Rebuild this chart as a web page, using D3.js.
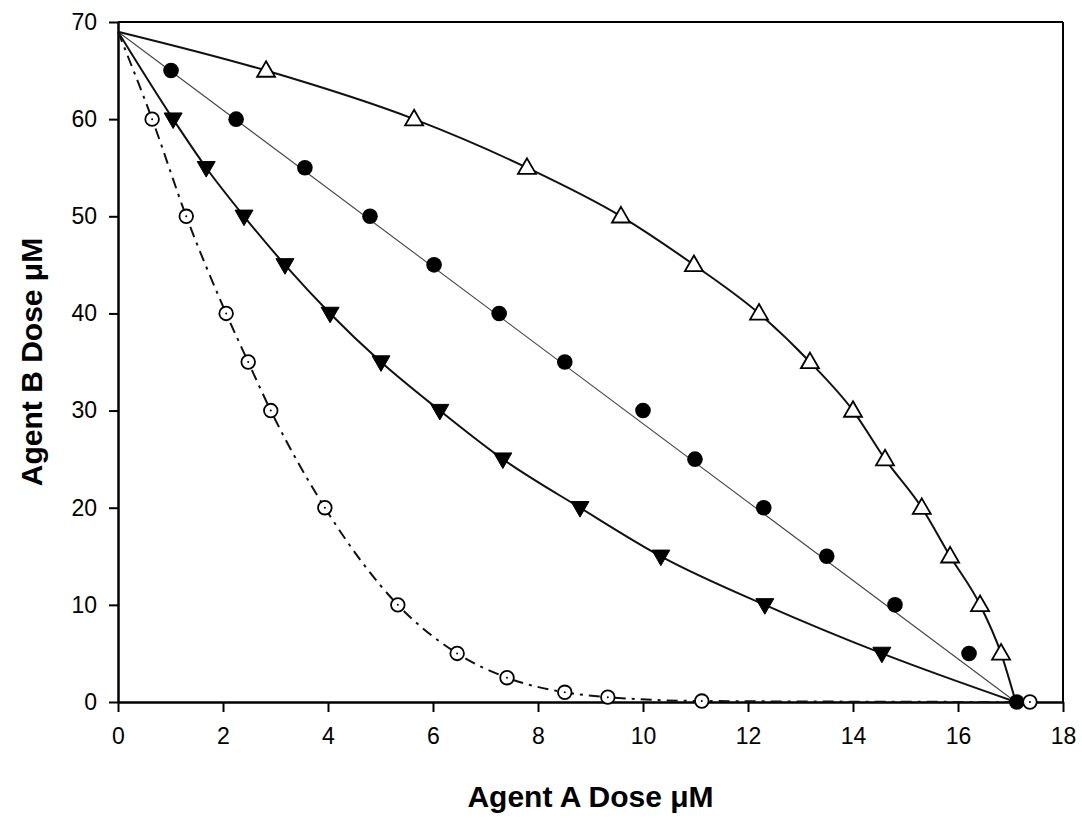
<!DOCTYPE html>
<html>
<head>
<meta charset="utf-8">
<script src="https://cdn.jsdelivr.net/npm/d3@7"></script>
<style>
  html, body { margin: 0; padding: 0; background: #fff; }
  svg { display: block; font-family: "Liberation Sans", Arial, sans-serif; }
</style>
</head>
<body>
<svg id="chart" width="1082" height="818"></svg>
<script>
// Isobologram: Agent A dose vs Agent B dose
const xTicks = [0, 2, 4, 6, 8, 10, 12, 14, 16, 18];
const yTicks = [0, 10, 20, 30, 40, 50, 60, 70];

// Open triangles (antagonism)
const triUpX = [2.82, 5.64, 7.79, 9.58, 10.97, 12.21, 13.18, 14.0, 14.61, 15.31, 15.85, 16.42, 16.82];
const triUpY = [65, 60, 55, 50, 45, 40, 35, 30, 25, 20, 15, 10, 5];

// Filled circles (additivity)
const dotX = [1.01, 2.25, 3.56, 4.80, 6.02, 7.26, 8.51, 10.0, 10.99, 12.30, 13.50, 14.80, 16.21, 17.12];
const dotY = [65, 60, 55, 50, 45, 40, 35, 30, 25, 20, 15, 10, 5, 0];

// Filled down-triangles (synergy)
const triDownX = [1.05, 1.68, 2.40, 3.18, 4.04, 5.01, 6.13, 7.33, 8.80, 10.34, 12.32, 14.55];
const triDownY = [60, 55, 50, 45, 40, 35, 30, 25, 20, 15, 10, 5];

// Open circles (strong synergy)
const ringX = [0.65, 1.30, 2.06, 2.48, 2.91, 3.94, 5.33, 6.46, 7.41, 8.51, 9.33, 11.12, 17.37];
const ringY = [60, 50, 40, 35, 30, 20, 10, 5, 2.5, 1.0, 0.5, 0.1, 0];

// Single-agent doses (axis intercepts) shared by the curves
const interceptA = 17.1;
const interceptB = 69;

const svg = d3.select("#chart");
const margin = { left: 118, right: 19, top: 22, bottom: 116 };
const W = 1082, H = 818;

const x = d3.scaleLinear().domain([0, 18]).range([margin.left, W - margin.right]);
const y = d3.scaleLinear().domain([0, 70]).range([H - margin.bottom, margin.top]);

// Frame (top and right)
svg.append("line")
  .attr("x1", x(0)).attr("x2", x(18)).attr("y1", y(70)).attr("y2", y(70))
  .attr("stroke", "#000").attr("stroke-width", 2);
svg.append("line")
  .attr("x1", x(18)).attr("x2", x(18)).attr("y1", y(70)).attr("y2", y(0))
  .attr("stroke", "#000").attr("stroke-width", 2);

// Axes
const xAxis = svg.append("g")
  .attr("transform", `translate(0,${y(0)})`)
  .call(d3.axisBottom(x).tickValues(xTicks).tickSize(10).tickPadding(16).tickSizeOuter(0));
const yAxis = svg.append("g")
  .attr("transform", `translate(${x(0)},0)`)
  .call(d3.axisLeft(y).tickValues(yTicks).tickSize(9).tickPadding(12).tickSizeOuter(0));

[xAxis, yAxis].forEach(g => {
  g.select(".domain").attr("stroke", "#000").attr("stroke-width", 2.5);
  g.selectAll(".tick line").attr("stroke", "#000").attr("stroke-width", 2);
  g.selectAll(".tick text")
    .attr("fill", "#000")
    .style("font-size", "23px")
    .style("font-family", "'Liberation Sans', Arial, sans-serif");
});

// Axis titles
svg.append("text")
  .attr("x", x(9)).attr("y", 807)
  .attr("text-anchor", "middle")
  .style("font-size", "30px").style("font-weight", "bold")
  .text("Agent A Dose \u03BCM");
svg.append("text")
  .attr("transform", `translate(42,${y(35)}) rotate(-90)`)
  .attr("text-anchor", "middle")
  .style("font-size", "30px").style("font-weight", "bold")
  .text("Agent B Dose \u03BCM");

const zip = (xs, ys) => xs.map((v, i) => [v, ys[i]]);
const line = (curve) => d3.line().x(d => x(d[0])).y(d => y(d[1])).curve(curve);

const plot = svg.append("g");

// Curves
const triUpCurve = [[0, interceptB], ...zip(triUpX, triUpY), [interceptA, 0]];
const triDownCurve = [[0, interceptB], ...zip(triDownX, triDownY), [interceptA, 0]];
const ringCurve = [[0, interceptB], ...zip(ringX, ringY)];
const additiveLine = [[0, interceptB], [interceptA, 0]];

plot.append("path").datum(additiveLine)
  .attr("d", line(d3.curveLinear))
  .attr("fill", "none").attr("stroke", "#444").attr("stroke-width", 1.1);
plot.append("path").datum(triUpCurve)
  .attr("d", line(d3.curveMonotoneX))
  .attr("fill", "none").attr("stroke", "#111").attr("stroke-width", 2);
plot.append("path").datum(triDownCurve)
  .attr("d", line(d3.curveMonotoneX))
  .attr("fill", "none").attr("stroke", "#111").attr("stroke-width", 2);
plot.append("path").datum(ringCurve)
  .attr("d", line(d3.curveMonotoneX))
  .attr("fill", "none").attr("stroke", "#111").attr("stroke-width", 2)
  .attr("stroke-dasharray", "11,6,3,6");

// Markers
const triSym = d3.symbol().type(d3.symbolTriangle).size(140);

plot.selectAll(".tri-up").data(zip(triUpX, triUpY)).join("path")
  .attr("class", "tri-up")
  .attr("transform", d => `translate(${x(d[0])},${y(d[1]) + 1})`)
  .attr("d", triSym)
  .attr("fill", "#fff").attr("stroke", "#000").attr("stroke-width", 1.8);

plot.selectAll(".dot").data(zip(dotX, dotY)).join("circle")
  .attr("class", "dot")
  .attr("cx", d => x(d[0])).attr("cy", d => y(d[1]))
  .attr("r", 7.8).attr("fill", "#000");

plot.selectAll(".tri-down").data(zip(triDownX, triDownY)).join("path")
  .attr("class", "tri-down")
  .attr("transform", d => `translate(${x(d[0])},${y(d[1]) - 1}) rotate(180)`)
  .attr("d", triSym)
  .attr("fill", "#000").attr("stroke", "#000").attr("stroke-width", 1);

const rings = plot.selectAll(".ring").data(zip(ringX, ringY)).join("g")
  .attr("class", "ring")
  .attr("transform", d => `translate(${x(d[0])},${y(d[1])})`);
rings.append("circle").attr("r", 6.8)
  .attr("fill", "#fff").attr("stroke", "#000").attr("stroke-width", 1.8);
rings.append("circle").attr("r", 1).attr("fill", "#000");
</script>
</body>
</html>
